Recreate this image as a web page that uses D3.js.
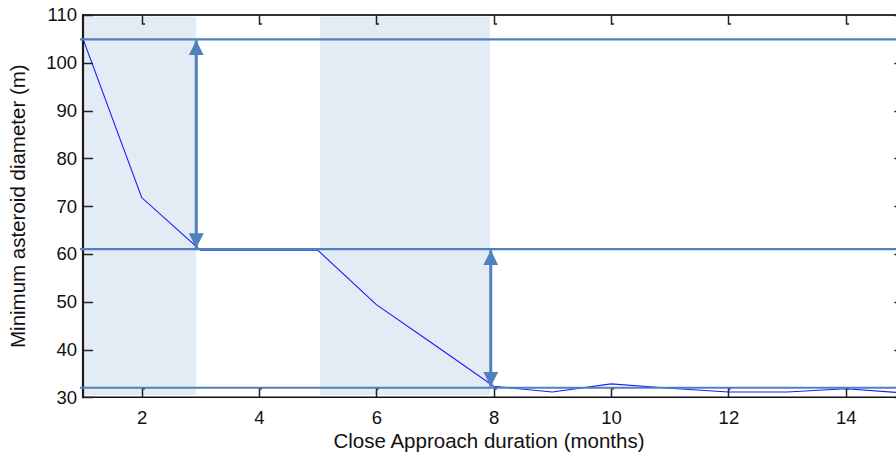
<!DOCTYPE html>
<html>
<head>
<meta charset="utf-8">
<script src="https://cdn.jsdelivr.net/npm/d3@7"></script>
<style>
  html, body { margin: 0; padding: 0; background: #fff; }
  svg { display: block; font-family: Arial, "Liberation Sans", sans-serif; }
</style>
</head>
<body>
<svg id="chart" width="896" height="454"></svg>
<script>
// Minimum asteroid diameter against close approach duration
const months    = [1, 2, 3, 4, 5, 6, 7, 8, 9, 10, 11, 12, 13, 14, 15];
const diameters = [105, 71.8, 60.8, 60.8, 60.8, 49.4, 40.9, 32.3, 31.1, 32.8, 31.9, 31.1, 31.1, 31.8, 30.9];

// Reference levels (m) and the shaded duration windows (months)
const levels  = [104.9, 61.0, 32.0];
const windows = [[1, 2.93], [5.04, 7.94]];
// Drops between levels, marked with double arrows: [month, from level, to level]
const drops   = [[2.93, 104.9, 61.0], [7.95, 61.0, 32.0]];

const xTicks = [2, 4, 6, 8, 10, 12, 14];
const yTicks = [30, 40, 50, 60, 70, 80, 90, 100, 110];

const xDomain = [1, 15];
const yDomain = [30, 110];

const svg = d3.select("#chart");
const W = 896, H = 454;
const pLeft = 83, pRight = 904.4, pTop = 15, pBottom = 397.3;

const x = d3.scaleLinear().domain(xDomain).range([pLeft, pRight]);
const y = d3.scaleLinear().domain(yDomain).range([pBottom, pTop]);

const accent = "#4f81bd";

// shaded windows
svg.append("g").selectAll("rect")
  .data(windows).join("rect")
  .attr("x", d => x(d[0]))
  .attr("width", d => x(d[1]) - x(d[0]))
  .attr("y", y(109.65))
  .attr("height", y(30.5) - y(109.65))
  .attr("fill", "#e3ebf5");

// data line
const line = d3.line().x((d, i) => x(months[i])).y(d => y(d));
svg.append("path")
  .datum(diameters)
  .attr("d", line)
  .attr("fill", "none")
  .attr("stroke", "#1a1aff")
  .attr("stroke-width", 1.1);

// axes frame
const frame = svg.append("g");
frame.append("line").attr("x1", pLeft).attr("x2", W + 20).attr("y1", pTop).attr("y2", pTop)
  .attr("stroke", "#333").attr("stroke-width", 2);
frame.append("line").attr("x1", pLeft).attr("x2", W + 20).attr("y1", pBottom).attr("y2", pBottom)
  .attr("stroke", "#111").attr("stroke-width", 1.6);
frame.append("line").attr("x1", pLeft).attr("x2", pLeft).attr("y1", pTop - 1).attr("y2", pBottom + 1)
  .attr("stroke", "#1a1a1a").attr("stroke-width", 2.2);
frame.append("line").attr("x1", pRight).attr("x2", pRight).attr("y1", pTop).attr("y2", pBottom)
  .attr("stroke", "#1a1a1a").attr("stroke-width", 2);

// x axis ticks and labels
const xAxis = d3.axisBottom(x).tickValues(xTicks).tickSize(0).tickPadding(14);
const gx = svg.append("g").attr("transform", `translate(0,${pBottom})`).call(xAxis);
gx.select(".domain").remove();
gx.selectAll("text").attr("font-size", 18.5).attr("fill", "#111")
  .attr("font-family", "Arial, 'Liberation Sans', sans-serif");

const tickG = svg.append("g").attr("stroke", "#222").attr("fill", "none").attr("stroke-width", 1.5);
xTicks.forEach(t => {
  const px = Math.round(x(t)) + 0.5;
  tickG.append("path").attr("d", `M${px},${pBottom}V${pBottom - 8.5}h2.5`);
  tickG.append("path").attr("d", `M${px},${pTop}V${pTop + 9}h2.5`);
});

// y axis ticks and labels
const yAxis = d3.axisLeft(y).tickValues(yTicks).tickSize(0).tickPadding(6);
const gy = svg.append("g").attr("transform", `translate(${pLeft},0)`).call(yAxis);
gy.select(".domain").remove();
gy.selectAll("text").attr("font-size", 18.5).attr("fill", "#111")
  .attr("font-family", "Arial, 'Liberation Sans', sans-serif");
yTicks.forEach(t => {
  const py = Math.round(y(t)) + 0.5;
  tickG.append("path").attr("d", `M${pLeft},${py}H${pLeft + 10}`);
  tickG.append("path").attr("d", `M${pRight},${py}H${pRight - 10}`);
});

// reference level lines
svg.append("g").selectAll("line")
  .data(levels).join("line")
  .attr("x1", x(1) - 3).attr("x2", W + 10)
  .attr("y1", d => y(d)).attr("y2", d => y(d))
  .attr("stroke", accent).attr("stroke-width", 2.2);

// double arrows between levels
const defs = svg.append("defs");
defs.append("marker")
  .attr("id", "head").attr("viewBox", "0 0 10 10")
  .attr("refX", 10).attr("refY", 5)
  .attr("markerWidth", 5).attr("markerHeight", 5)
  .attr("markerUnits", "strokeWidth")
  .attr("orient", "auto-start-reverse")
  .append("path").attr("d", "M0,0L10,5L0,10Z").attr("fill", accent);

svg.append("g").selectAll("line")
  .data(drops).join("line")
  .attr("x1", d => x(d[0])).attr("x2", d => x(d[0]))
  .attr("y1", d => y(d[1]) + 1).attr("y2", d => y(d[2]) - 1)
  .attr("stroke", accent).attr("stroke-width", 3)
  .attr("marker-start", "url(#head)")
  .attr("marker-end", "url(#head)");

// axis titles
svg.append("text")
  .attr("x", 489).attr("y", 448)
  .attr("text-anchor", "middle").attr("font-size", 20.5).attr("fill", "#111")
  .text("Close Approach duration (months)");

svg.append("text")
  .attr("transform", `translate(25,${(pTop + pBottom) / 2}) rotate(-90)`)
  .attr("text-anchor", "middle").attr("font-size", 20.5).attr("fill", "#111")
  .text("Minimum asteroid diameter (m)");
</script>
</body>
</html>
